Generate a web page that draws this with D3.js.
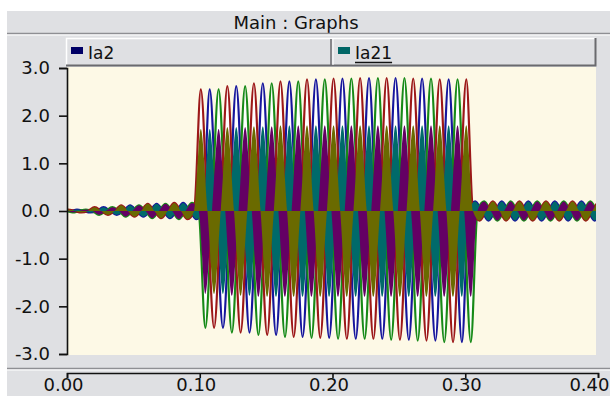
<!DOCTYPE html>
<html>
<head>
<meta charset="utf-8">
<script src="https://cdn.jsdelivr.net/npm/d3@7"></script>
<style>
  body { margin: 0; background: #fff; }
  svg { display: block; font-family: "DejaVu Sans", sans-serif; }
</style>
</head>
<body>
<div id="chart"></div>
<script>
"use strict"

// values, one entry per 20 ms cycle
let xTicks = [0.00, 0.10, 0.20, 0.30, 0.40];
let yTicks = [-3, -2, -1, 0, 1, 2, 3];
let seriesNames = ["Ia2", "Ia21"];
let cycle = 0.02;
let faultStart = 0.10;
let faultEnd = 0.306;
// time of the first positive peak of phase a, b, c
let peakTimes = [0.0075, 0.0142, 0.0208];
let prefaultAmp = [0.03, 0.08, 0.12, 0.15, 0.17];
let postfaultAmp = [0.20, 0.20, 0.20, 0.20, 0.20];
let ia2Peaks = [2.55, 2.62, 2.68, 2.72, 2.76, 2.78, 2.79, 2.79, 2.78, 2.76];
let ia2Troughs = [-2.45, -2.55, -2.60, -2.64, -2.66, -2.68, -2.68, -2.70, -2.72, -2.75];
let ia21Peaks = [1.72, 1.76, 1.78, 1.80, 1.80, 1.80, 1.80, 1.80, 1.80, 1.80];
let ia21Troughs = [-1.74, -1.78, -1.80, -1.80, -1.80, -1.80, -1.80, -1.80, -1.80, -1.80];

let ia2Colors = ["#16169c", "#178a17", "#9c1818"];
let ia21Colors = ["#006a6a", "#640064", "#6a6a00"];

// peak / trough level of the cycle that holds time t
function level(t, sign, peaks, troughs) {
    if (t < 0) return 0;
    let c = Math.floor(t / cycle);
    if (t < faultStart) return sign * prefaultAmp[Math.min(c, prefaultAmp.length - 1)];
    if (t < faultEnd) {
        let i = Math.min(c - 5, peaks.length - 1);
        return sign > 0 ? peaks[i] : troughs[i];
    }
    return sign * postfaultAmp[Math.min(Math.max(c - 15, 0), postfaultAmp.length - 1)];
}

// knots every quarter cycle: peak, zero, trough, zero
function knots(peakT, peaks, troughs) {
    let pts = [];
    for (let m = 0; m < 100; m++) {
        let t = peakT - 2 * cycle + m * cycle / 4;
        let v = 0;
        if (m % 4 == 0) v = level(t, 1, peaks, troughs);
        if (m % 4 == 2) v = level(t, -1, peaks, troughs);
        pts.push({ t: t, v: v });
    }
    return pts;
}

let ia2Data = peakTimes.map(p => knots(p, ia2Peaks, ia2Troughs));
let ia21Data = peakTimes.map(p => knots(p, ia21Peaks, ia21Troughs));

let width = 610, height = 396;
let gray = "#dfe0e3";

let svg = d3.select("#chart")
    .append("svg")
    .attr("width", width)
    .attr("height", height);

// window panels
svg.append("rect").attr("x", 7).attr("y", 11).attr("width", width - 7).attr("height", height - 11).attr("fill", gray);

svg.append("text")
    .attr("x", 296).attr("y", 29)
    .attr("text-anchor", "middle")
    .style("font-size", "18px")
    .attr("fill", "#111")
    .text("Main : Graphs");

function sepLine(yy) {
    svg.append("line").attr("x1", 7).attr("x2", width).attr("y1", yy + 0.5).attr("y2", yy + 0.5).attr("stroke", "#8e8f93").attr("stroke-width", 1.5);
    svg.append("line").attr("x1", 7).attr("x2", width).attr("y1", yy + 2).attr("y2", yy + 2).attr("stroke", "#fff").attr("stroke-width", 1);
}
sepLine(33);
sepLine(368);

// legend bar
let legX0 = 66, legX1 = 596, legY0 = 38, legY1 = 66, legMid = 331;
svg.append("rect").attr("x", legX0).attr("y", legY0).attr("width", legX1 - legX0).attr("height", legY1 - legY0).attr("fill", gray);
svg.append("path").attr("d", `M${legX0 + 0.5},${legY1}V${legY0 + 0.5}H${legX1}`).attr("fill", "none").attr("stroke", "#fff").attr("stroke-width", 1.5);
svg.append("path").attr("d", `M${legX0},${legY1 - 0.5}H${legX1 - 0.5}V${legY0}`).attr("fill", "none").attr("stroke", "#6a6a6e").attr("stroke-width", 2);
svg.append("line").attr("x1", legMid).attr("x2", legMid).attr("y1", legY0 + 1).attr("y2", legY1 - 1).attr("stroke", "#6a6a6e").attr("stroke-width", 1.5);
svg.append("line").attr("x1", legMid + 2).attr("x2", legMid + 2).attr("y1", legY0 + 1).attr("y2", legY1 - 1).attr("stroke", "#fff").attr("stroke-width", 1);

let legendItems = [
    { name: seriesNames[0], x: 71, color: "#000066" },
    { name: seriesNames[1], x: 338, color: "#006666" }
];
legendItems.forEach(function (d, i) {
    svg.append("rect").attr("x", d.x).attr("y", 47).attr("width", 12).attr("height", 7).attr("fill", d.color);
    let txt = svg.append("text")
        .attr("x", d.x + 17).attr("y", 59)
        .style("font-size", "17px")
        .attr("fill", "#111")
        .text(d.name);
    if (i == 1) {
        let w = txt.node().getComputedTextLength();
        svg.append("line").attr("x1", d.x + 17).attr("x2", d.x + 17 + w).attr("y1", 62.5).attr("y2", 62.5).attr("stroke", "#111").attr("stroke-width", 1.5);
    }
});

// plot area
let plotL = 67, plotR = 596, plotT = 67, plotB = 355;
svg.append("rect").attr("x", plotL).attr("y", plotT).attr("width", plotR - plotL).attr("height", plotB - plotT).attr("fill", "#fdf9e6");

svg.append("clipPath").attr("id", "clip")
    .append("rect").attr("x", plotL).attr("y", plotT).attr("width", plotR - plotL).attr("height", plotB - plotT);

let x = d3.scaleLinear().domain([0, 0.4]).range([67, 598]);
let y = d3.scaleLinear().domain([-3, 3]).range([354, 68]);

let curve = d3.curveMonotoneX;
let line = d3.line().x(d => x(d.t)).y(d => y(d.v)).curve(curve);
let area = d3.area().x(d => x(d.t)).y0(y(0)).y1(d => y(d.v)).curve(curve);

let plot = svg.append("g").attr("clip-path", "url(#clip)");

// Ia2: white fill under the traces, then the thin traces
plot.selectAll(".ia2fill")
    .data(ia2Data)
    .enter()
    .append("path")
    .attr("d", area)
    .attr("fill", "#fff");

plot.selectAll(".ia2line")
    .data(ia2Data)
    .enter()
    .append("path")
    .attr("d", line)
    .attr("fill", "none")
    .attr("stroke", (d, i) => ia2Colors[i])
    .attr("stroke-width", 2.2);

// Ia21: filled traces drawn on top
plot.selectAll(".ia21fill")
    .data(ia21Data)
    .enter()
    .append("path")
    .attr("d", area)
    .attr("fill", (d, i) => ia21Colors[i]);

// axes
let yAxis = svg.append("g")
    .attr("transform", "translate(67,0)")
    .call(d3.axisLeft(y).tickValues(yTicks).tickFormat(d => d.toFixed(1)).tickSize(8).tickPadding(9));

let xAxis = svg.append("g")
    .attr("transform", "translate(0,373)")
    .call(d3.axisBottom(x).tickValues(xTicks).tickFormat(d => d.toFixed(2)).tickSize(5).tickPadding(0));

[yAxis, xAxis].forEach(function (g) {
    g.selectAll("path, line").attr("stroke", "#111").attr("stroke-width", 1.6);
    g.selectAll("text")
        .attr("fill", "#111")
        .style("font-size", "18px")
        .style("font-family", "DejaVu Sans, sans-serif");
});
xAxis.selectAll("text").attr("dx", -4);
// last label would run past the window edge: pin its right end inside
xAxis.selectAll(".tick").filter(d => d == 0.4).select("text")
    .attr("text-anchor", "end")
    .attr("dx", 11);
</script>
</body>
</html>
